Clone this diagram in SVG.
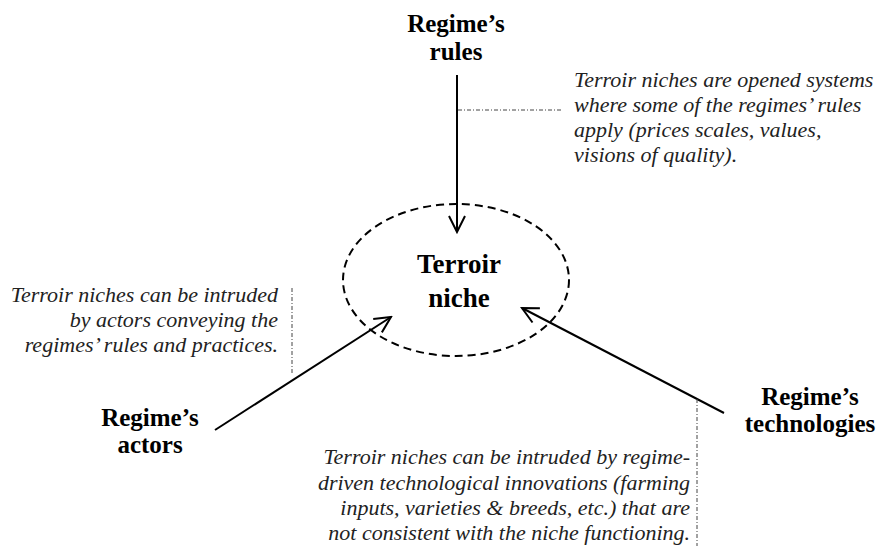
<svg xmlns="http://www.w3.org/2000/svg" width="878" height="546" viewBox="0 0 878 546">
<style>
.lbl{font-family:"Liberation Serif","Times New Roman",serif;font-weight:bold;font-size:25px;fill:#000;text-anchor:middle}
.ctr{font-size:27px}
.note{font-family:"Liberation Serif","Times New Roman",serif;font-style:italic;font-size:22px;fill:#222}
.arrow{stroke:#000;stroke-width:2;fill:none}
.lead{stroke:#444;stroke-width:1;stroke-dasharray:4 2 1 2;fill:none}
</style>
<defs>
<marker id="open" markerUnits="userSpaceOnUse" markerWidth="20" markerHeight="20" viewBox="-18 -10 20 20" refX="0" refY="0" orient="auto">
<path d="M-16,-8 L0,0 L-16,8" fill="none" stroke="#000" stroke-width="2"/>
</marker>
</defs>
<rect width="878" height="546" fill="#fff"/>
<g id="niche">
<ellipse cx="456" cy="280" rx="113" ry="76" fill="none" stroke="#000" stroke-width="2" stroke-dasharray="8 5"/>
<text class="lbl ctr" x="459" y="273">Terroir</text>
<text class="lbl ctr" x="459" y="307">niche</text>
</g>
<g id="rules">
<text class="lbl" x="456" y="32">Regime’s</text>
<text class="lbl" x="456" y="60">rules</text>
</g>
<g id="actors">
<text class="lbl" x="150" y="426">Regime’s</text>
<text class="lbl" x="150" y="453">actors</text>
</g>
<g id="technologies">
<text class="lbl" x="810" y="405">Regime’s</text>
<text class="lbl" x="810" y="432">technologies</text>
</g>
<g id="connectors">
<line class="arrow" x1="457" y1="75" x2="457" y2="232" marker-end="url(#open)"/>
<line class="arrow" x1="215" y1="430" x2="391" y2="317" marker-end="url(#open)"/>
<line class="arrow" x1="724" y1="413" x2="522" y2="308" marker-end="url(#open)"/>
<line class="lead" x1="458" y1="110" x2="561" y2="110"/>
<line class="lead" x1="292" y1="288" x2="292" y2="375"/>
<line class="lead" x1="697" y1="399" x2="697" y2="546"/>
</g>
<g id="note-rules" class="note">
<text x="574" y="87">Terroir niches are opened systems</text>
<text x="574" y="112">where some of the regimes’ rules</text>
<text x="574" y="137">apply (prices scales, values,</text>
<text x="574" y="162">visions of quality).</text>
</g>
<g id="note-actors" class="note" text-anchor="end">
<text x="278" y="302">Terroir niches can be intruded</text>
<text x="278" y="327">by actors conveying the</text>
<text x="278" y="352">regimes’ rules and practices.</text>
</g>
<g id="note-technologies" class="note" text-anchor="end">
<text x="690" y="464">Terroir niches can be intruded by regime-</text>
<text x="690" y="490">driven technological innovations (farming</text>
<text x="690" y="515">inputs, varieties &amp; breeds, etc.) that are</text>
<text x="690" y="540">not consistent with the niche functioning.</text>
</g>
</svg>
